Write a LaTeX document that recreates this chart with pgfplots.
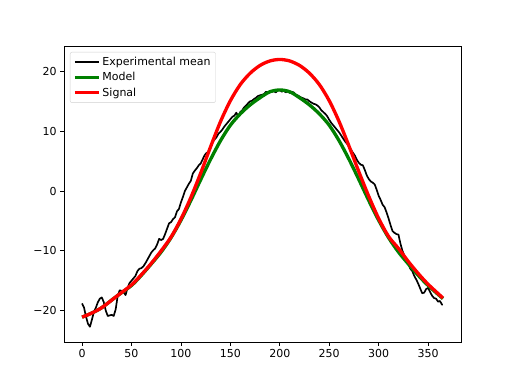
\documentclass[border=0pt]{standalone}
\usepackage{fontspec}
\setmainfont{DejaVu Sans}
\usepackage{pgfplots}
\pgfplotsset{compat=1.18}
\definecolor{mplgreen}{RGB}{0,128,0}
\begin{document}
\begin{tikzpicture}
\useasboundingbox (-64pt,-42pt) rectangle (448pt,342pt);
\begin{axis}[
  at={(0pt,0pt)}, anchor=south west,
  scale only axis, width=397pt, height=296pt,
  xmin=-18.25, xmax=383.25, ymin=-25.25, ymax=24.25,
  xtick={0,50,...,350}, ytick={-20,-10,0,10,20},
  yticklabels={−20,−10,0,10,20},
  xtick pos=bottom, ytick pos=left,
  tick align=outside, major tick length=3.9pt,
  every tick/.style={black, line width=0.8pt},
  axis line style={line width=0.8pt},
  tick label style={font=\fontsize{11}{13}\selectfont},
  /pgf/number format/assume math mode=true,
  legend cell align=left,
  legend style={at={(0.015,0.98)}, anchor=north west, draw=black!18, rounded corners=2pt,
    fill=white, fill opacity=0.8, text opacity=1, font=\fontsize{11}{13}\selectfont,
    inner xsep=3pt, inner ysep=3pt, row sep=1.5pt},
  legend image code/.code={\draw[#1] (0pt,0pt) -- (24pt,0pt);},
]
\addplot[black, line width=1.67pt, line join=round] coordinates {
(0,-18.8)(2,-19.5)(4,-21.0)(6,-22.2)(8,-22.7)(10,-21.5)(12,-20.2)(14,-19.5)(16,-18.6)(18,-18.0)
(20,-17.8)(22,-18.6)(24,-20.0)(26,-20.9)(28,-20.8)(30,-20.7)(32,-20.9)(34,-19.8)(36,-17.6)(38,-16.6)
(40,-16.7)(42,-16.9)(44,-17.4)(46,-16.2)(48,-15.4)(50,-15.0)(52,-14.6)(54,-14.2)(56,-13.4)(58,-13.0)
(60,-12.9)(62,-12.6)(64,-12.1)(66,-11.5)(68,-10.9)(70,-10.3)(72,-9.9)(74,-9.6)(76,-8.9)(78,-8.0)
(80,-8.2)(82,-8.0)(84,-7.2)(86,-6.3)(88,-5.4)(90,-5.2)(92,-4.7)(94,-4.4)(96,-3.4)(98,-3.0)
(100,-1.9)(102,-1.0)(104,0.0)(106,0.6)(108,1.2)(110,1.7)(112,2.9)(114,3.4)(116,3.8)(118,4.3)
(120,4.6)(122,5.3)(124,6.0)(126,6.4)(128,6.5)(130,7.3)(132,8.2)(134,8.6)(136,9.0)(138,9.6)
(140,9.9)(142,10.3)(144,10.8)(146,11.2)(148,11.6)(150,12.0)(152,12.4)(154,12.6)(156,13.1)(158,12.5)
(160,13.2)(162,13.5)(164,14.0)(166,14.3)(168,14.7)(170,15.0)(172,15.1)(174,15.4)(176,15.6)(178,15.9)
(180,16.0)(182,16.1)(184,16.2)(186,16.6)(188,16.4)(190,16.5)(192,16.6)(194,16.7)(196,16.5)(198,16.8)
(200,16.9)(202,16.6)(204,16.8)(206,16.5)(208,16.7)(210,16.4)(212,16.6)(214,16.5)(216,16.1)(218,16.0)
(220,15.8)(222,15.6)(224,15.5)(226,15.3)(228,15.3)(230,15.0)(232,14.8)(234,14.6)(236,14.5)(238,14.3)
(240,14.0)(242,13.5)(244,13.2)(246,12.9)(248,12.5)(250,11.9)(252,11.4)(254,11.0)(256,10.6)(258,10.2)
(260,9.8)(262,9.3)(264,8.8)(266,8.3)(268,7.9)(270,7.4)(272,6.9)(274,6.4)(276,5.9)(278,5.2)
(280,4.7)(282,4.4)(284,4.3)(286,3.5)(288,2.6)(290,2.0)(292,1.6)(294,1.4)(296,1.1)(298,0.2)
(300,-0.8)(302,-1.5)(304,-2.3)(306,-2.7)(308,-3.6)(310,-4.6)(312,-5.7)(314,-6.7)(316,-7.0)(318,-7.2)
(320,-7.3)(322,-8.8)(324,-10.0)(326,-10.8)(328,-11.4)(330,-12.2)(332,-13.0)(334,-13.4)(336,-14.2)(338,-14.8)
(340,-15.5)(342,-16.3)(344,-17.1)(346,-17.0)(348,-16.4)(350,-16.2)(352,-16.9)(354,-17.5)(356,-17.9)(358,-18.0)
(360,-18.5)(362,-18.4)(364,-19.0)(365,-19.0)
};
\addlegendentry{Experimental mean}
\addplot[mplgreen, line width=3.33pt, smooth] coordinates {
(0,-21.1)(10,-20.4)(20,-19.5)(35,-17.6)(50,-15.8)(60,-14.1)(70,-12.2)(80,-10.2)
(90,-7.8)(100,-4.9)(110,-1.6)(120,1.9)(130,5.3)(140,8.4)(150,11.0)(160,12.9)
(170,14.4)(180,15.6)(190,16.6)(200,16.9)(210,16.6)(220,15.6)(230,14.4)(240,12.9)
(250,11.0)(260,8.4)(270,5.3)(280,1.9)(290,-1.6)(300,-4.9)(310,-7.8)(320,-10.2)
(330,-12.2)(340,-14.1)(350,-15.8)(365,-18.0)
};
\addlegendentry{Model}
\addplot[red, line width=3.33pt, smooth] coordinates {
(0,-21.1)(10,-20.4)(20,-19.5)(35,-17.6)(50,-15.7)(60,-14.0)(70,-12.1)(80,-10.0)
(90,-7.7)(100,-4.7)(110,-1.1)(120,3.0)(130,7.4)(140,11.6)(150,15.1)(160,17.8)
(170,19.7)(180,21.0)(190,21.75)(200,22.0)(210,21.75)(220,21.0)(230,19.7)(240,17.8)
(250,15.1)(260,11.6)(270,7.5)(280,3.2)(290,-0.9)(300,-4.6)(310,-7.6)(320,-9.6)
(330,-11.8)(340,-13.8)(350,-15.6)(365,-17.9)
};
\addlegendentry{Signal}
\end{axis}
\end{tikzpicture}
\end{document}
